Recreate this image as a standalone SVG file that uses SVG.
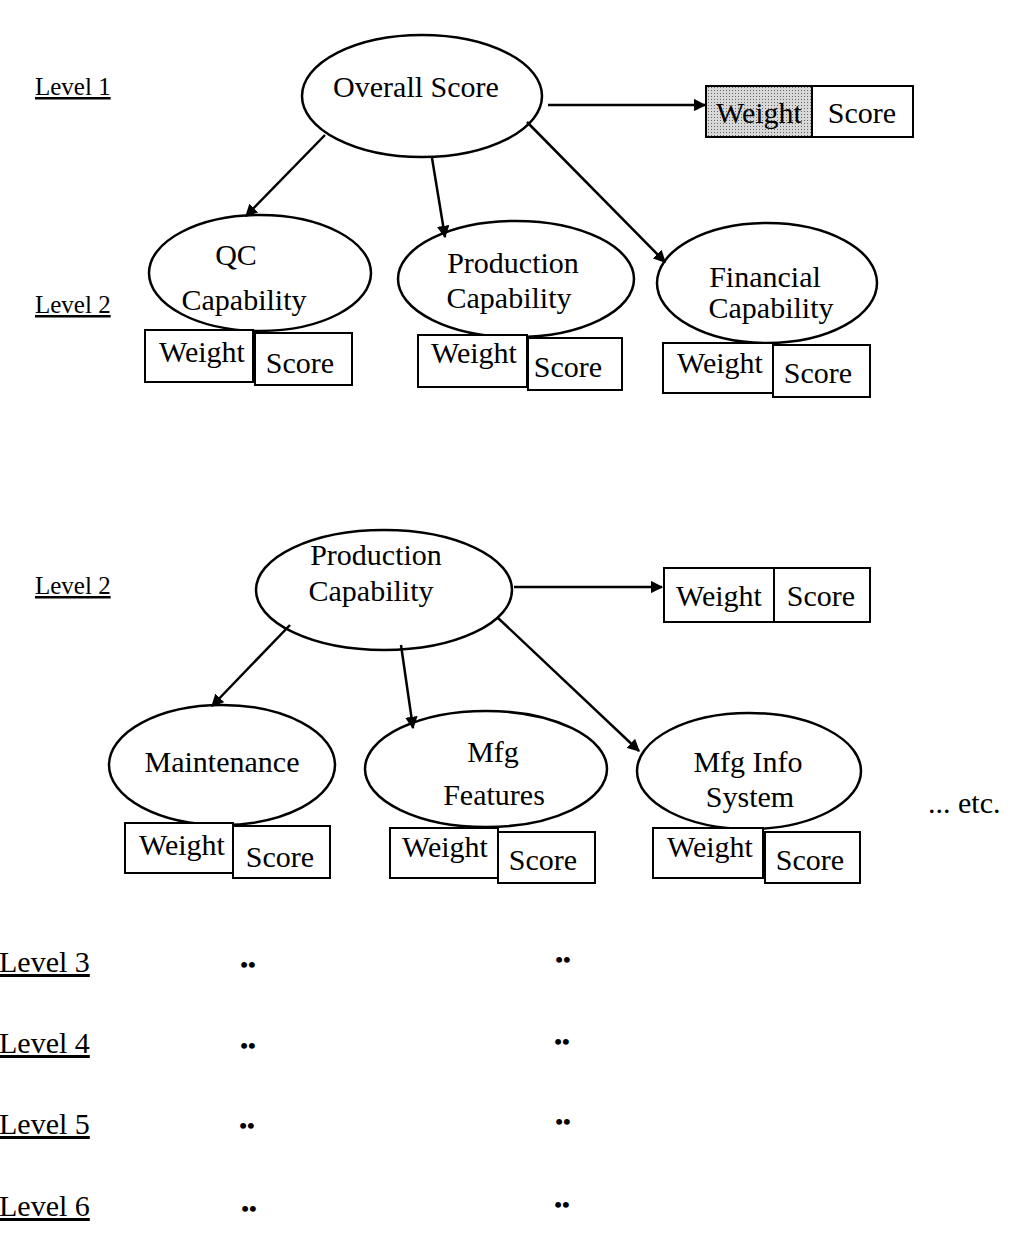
<svg xmlns="http://www.w3.org/2000/svg" width="1013" height="1237" viewBox="0 0 1013 1237">
<style>
text{font-family:"Liberation Serif","Times New Roman",serif;font-size:30px;fill:#000}
.c{text-anchor:middle}
.lv{text-decoration:underline;font-size:25px}
.lv2{text-decoration:underline;font-size:30px}
.n{fill:#fff;stroke:#000;stroke-width:2.5}
.b{fill:#fff;stroke:#000;stroke-width:2}
.e{stroke:#000;stroke-width:2.5;fill:none;marker-end:url(#ah)}
.d{font-size:22px;font-weight:bold}
</style>
<defs>
<marker id="ah" viewBox="0 0 10 10" refX="9" refY="5" markerWidth="5" markerHeight="5" orient="auto" markerUnits="strokeWidth">
<path d="M0,0 L10,5 L0,10 z" fill="#000"/>
</marker>
<pattern id="dots" width="3" height="3" patternUnits="userSpaceOnUse">
<rect width="3" height="3" fill="#d8d8d8"/>
<rect width="1" height="1" fill="#666"/>
</pattern>
</defs>

<g id="levels">
<text class="lv" x="35" y="95">Level 1</text>
<text class="lv" x="35" y="313">Level 2</text>
<text class="lv" x="35" y="594">Level 2</text>
<text class="lv2" x="-1" y="972">Level 3</text>
<text class="lv2" x="-1" y="1053">Level 4</text>
<text class="lv2" x="-1" y="1134">Level 5</text>
<text class="lv2" x="-1" y="1216">Level 6</text>
</g>

<g id="dots-col">
<text class="d c" x="248" y="972">••</text>
<text class="d c" x="563" y="967">••</text>
<text class="d c" x="248" y="1053">••</text>
<text class="d c" x="562" y="1049">••</text>
<text class="d c" x="247" y="1133">••</text>
<text class="d c" x="563" y="1129">••</text>
<text class="d c" x="249" y="1216">••</text>
<text class="d c" x="562" y="1212">••</text>
</g>

<g id="overall">
<ellipse class="n" cx="422" cy="96" rx="120" ry="61"/>
<text class="c" x="416" y="97">Overall Score</text>
</g>
<g id="overall-ws">
<rect x="706" y="86" width="106" height="51" fill="url(#dots)" stroke="#000" stroke-width="2"/>
<rect class="b" x="812" y="86" width="101" height="51"/>
<text class="c" x="759" y="123">Weight</text>
<text class="c" x="862" y="123">Score</text>
</g>

<g id="qc">
<ellipse class="n" cx="260" cy="273" rx="111" ry="58"/>
<text class="c" x="236" y="265">QC</text>
<text class="c" x="244" y="310">Capability</text>
</g>
<g id="qc-ws">
<rect class="b" x="145" y="330" width="108" height="52"/>
<rect class="b" x="255" y="333" width="97" height="52"/>
<text class="c" x="202" y="362">Weight</text>
<text class="c" x="300" y="373">Score</text>
</g>

<g id="prod">
<ellipse class="n" cx="516" cy="279" rx="118" ry="58"/>
<text class="c" x="513" y="273">Production</text>
<text class="c" x="509" y="308">Capability</text>
</g>
<g id="prod-ws">
<rect class="b" x="418" y="335" width="109" height="52"/>
<rect class="b" x="528" y="338" width="94" height="52"/>
<text class="c" x="474" y="363">Weight</text>
<text class="c" x="568" y="377">Score</text>
</g>

<g id="fin">
<ellipse class="n" cx="767" cy="283" rx="110" ry="60"/>
<text class="c" x="765" y="287">Financial</text>
<text class="c" x="771" y="318">Capability</text>
</g>
<g id="fin-ws">
<rect class="b" x="663" y="343" width="110" height="50"/>
<rect class="b" x="773" y="345" width="97" height="52"/>
<text class="c" x="720" y="373">Weight</text>
<text class="c" x="818" y="383">Score</text>
</g>

<g id="prod2">
<ellipse class="n" cx="384" cy="590" rx="128" ry="60"/>
<text class="c" x="376" y="565">Production</text>
<text class="c" x="371" y="601">Capability</text>
</g>
<g id="prod2-ws">
<rect class="b" x="664" y="568" width="110" height="54"/>
<rect class="b" x="774" y="568" width="96" height="54"/>
<text class="c" x="719" y="606">Weight</text>
<text class="c" x="821" y="606">Score</text>
</g>

<g id="maint">
<ellipse class="n" cx="222" cy="765" rx="113" ry="60"/>
<text class="c" x="222" y="772">Maintenance</text>
</g>
<g id="maint-ws">
<rect class="b" x="125" y="823" width="108" height="50"/>
<rect class="b" x="233" y="826" width="97" height="52"/>
<text class="c" x="182" y="855">Weight</text>
<text class="c" x="280" y="867">Score</text>
</g>

<g id="mfgf">
<ellipse class="n" cx="486" cy="769" rx="121" ry="58"/>
<text class="c" x="493" y="762">Mfg</text>
<text class="c" x="494" y="805">Features</text>
</g>
<g id="mfgf-ws">
<rect class="b" x="390" y="828" width="108" height="50"/>
<rect class="b" x="498" y="832" width="97" height="51"/>
<text class="c" x="445" y="857">Weight</text>
<text class="c" x="543" y="870">Score</text>
</g>

<g id="mfgi">
<ellipse class="n" cx="749" cy="771" rx="112" ry="58"/>
<text class="c" x="748" y="772">Mfg Info</text>
<text class="c" x="750" y="807">System</text>
</g>
<g id="mfgi-ws">
<rect class="b" x="653" y="828" width="110" height="50"/>
<rect class="b" x="765" y="832" width="95" height="51"/>
<text class="c" x="710" y="857">Weight</text>
<text class="c" x="810" y="870">Score</text>
</g>

<g id="connectors">
<line class="e" x1="548" y1="105" x2="705" y2="105"/>
<line class="e" x1="325" y1="135" x2="246" y2="216"/>
<line class="e" x1="432" y1="158" x2="445" y2="237"/>
<line class="e" x1="527" y1="122" x2="665" y2="262"/>
<line class="e" x1="514" y1="587" x2="662" y2="587"/>
<line class="e" x1="290" y1="625" x2="212" y2="706"/>
<line class="e" x1="401" y1="645" x2="413" y2="728"/>
<line class="e" x1="497" y1="617" x2="639" y2="751"/>
</g>

<text id="etc" x="928" y="813">... etc.</text>
</svg>
